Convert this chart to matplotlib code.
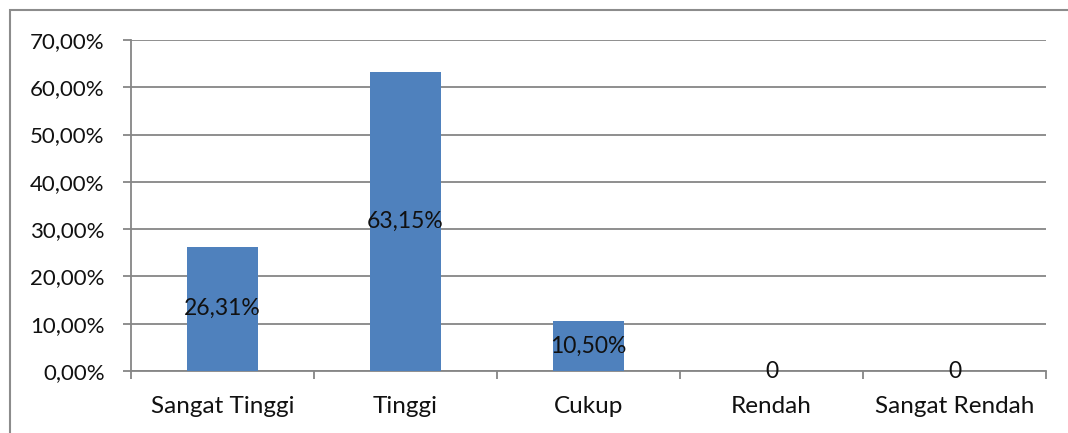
import numpy as np
import matplotlib.pyplot as plt
from matplotlib.patches import Rectangle

# kategori dan persentase
kategori = ['Sangat Tinggi', 'Tinggi', 'Cukup', 'Rendah', 'Sangat Rendah']
persen = [26.31, 63.15, 10.50, 0, 0]
label = ['26,31%', '63,15%', '10,50%', '0', '0']
yticks = [0, 10, 20, 30, 40, 50, 60, 70]

plt.rcParams['font.family'] = ['Lato', 'DejaVu Sans']
grey = '#868686'

fig = plt.figure(figsize=(10.68, 4.33), dpi=100)
ax = fig.add_axes([131/1068, 1-371/433, (1046-131)/1068, 331/433])

x = np.arange(len(kategori))
ax.bar(x, persen, width=0.39, color='#4F81BD', zorder=3)

# label di tengah batang
for xi, p, t in zip(x, persen, label):
    ax.text(xi, p/2, t, ha='center', va='center', fontsize=16.5, color='#111111', zorder=4)

ax.set_xlim(-0.5, 4.5)
ax.set_ylim(0, 70)
ax.set_yticks(yticks)
ax.set_yticklabels(['%d,00%%' % v for v in yticks], fontsize=16, color='#111111')
ax.yaxis.grid(True, color=grey, linewidth=1.3, zorder=0)

# tick di batas kategori, label di tengah
ax.set_xticks(np.arange(-0.5, 5, 1))
ax.set_xticklabels([])
ax.set_xticks(x, minor=True)
ax.set_xticklabels(kategori, minor=True, fontsize=17.5, color='#111111')
ax.tick_params(axis='x', which='major', length=6, color=grey, width=1.3)
ax.tick_params(axis='x', which='minor', length=0, pad=18)
ax.tick_params(axis='y', length=6, color=grey, width=1.3, pad=13)

for s in ['top', 'right']:
    ax.spines[s].set_visible(False)
for s in ['left', 'bottom']:
    ax.spines[s].set_color(grey)
    ax.spines[s].set_linewidth(1.3)

# bingkai luar
fig.patches.append(Rectangle((10/1068, -0.1), 2, 1.1 - 10/433, transform=fig.transFigure,
                             fill=False, edgecolor='#8c8c8c', linewidth=1.5, clip_on=False))

plt.savefig('out.png', dpi=100)
